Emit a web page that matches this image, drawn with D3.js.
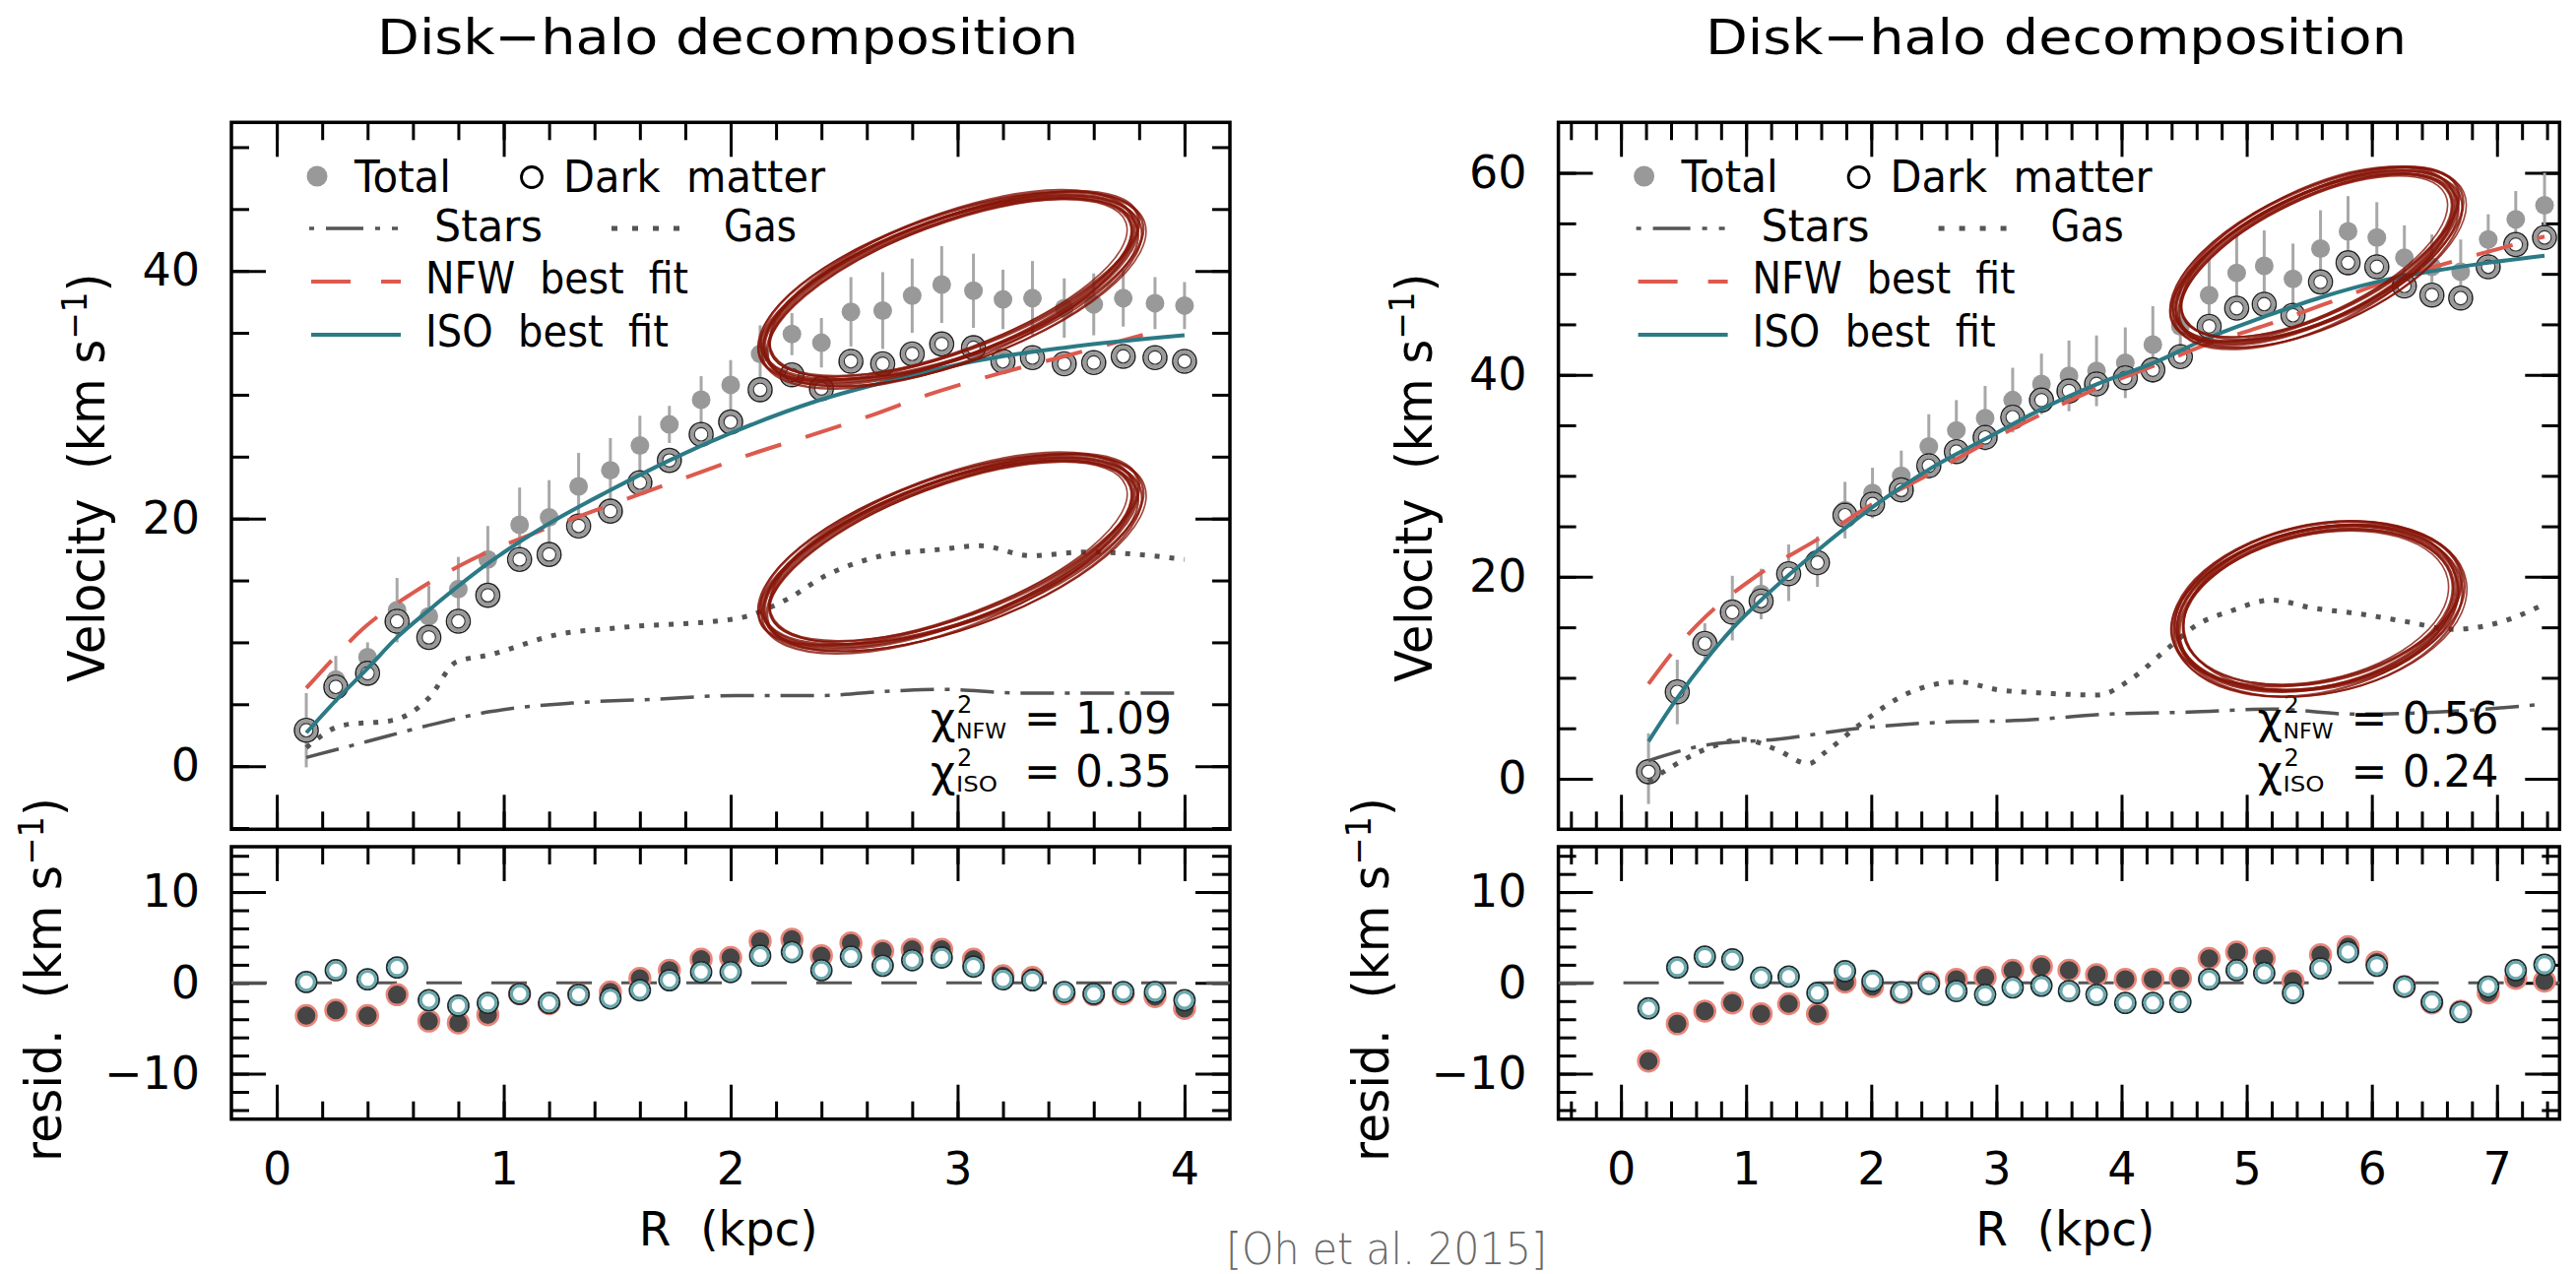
<!DOCTYPE html>
<html>
<head>
<meta charset="utf-8">
<script src="https://cdn.jsdelivr.net/npm/d3@7"></script>
<style>
  body { margin: 0; background: #fff; }
  svg { display: block; }
  text { font-family: "DejaVu Sans", sans-serif; fill: #000; white-space: pre; }
</style>
</head>
<body>
<svg id="chart" width="2616" height="1294"></svg>
<script>
// ---------- left galaxy ----------
const leftR = [0.13, 0.26, 0.40, 0.53, 0.67, 0.80, 0.93, 1.07, 1.20, 1.33, 1.47, 1.60, 1.73, 1.87, 2.00,
               2.13, 2.27, 2.40, 2.53, 2.67, 2.80, 2.93, 3.07, 3.20, 3.33, 3.47, 3.60, 3.73, 3.87, 4.00];
const leftTotal = [2.9, 7.0, 8.8, 12.6, 12.1, 14.3, 16.7, 19.5, 20.1, 22.6, 23.9, 25.9, 27.6, 29.6, 30.8,
                   33.3, 34.9, 34.2, 36.7, 36.8, 38.0, 38.9, 38.4, 37.7, 37.8, 37.0, 37.3, 37.8, 37.4, 37.2];
const leftTotalErr = [3.0, 1.9, 1.2, 2.6, 2.5, 2.6, 2.7, 3.0, 3.0, 2.7, 2.6, 2.4, 1.5, 1.9, 2.0,
                      2.3, 1.7, 2.0, 2.8, 3.1, 3.0, 3.1, 3.0, 2.4, 3.0, 2.4, 2.5, 2.3, 2.1, 1.9];
const leftDM = [2.9, 6.4, 7.5, 11.7, 10.4, 11.7, 13.8, 16.7, 17.1, 19.4, 20.6, 22.9, 24.7, 26.8, 27.8,
                30.4, 31.6, 30.5, 32.7, 32.5, 33.3, 34.1, 33.8, 32.7, 33.0, 32.5, 32.6, 33.1, 33.0, 32.7];
const leftResISO = [0.1, 1.4, 0.4, 1.7, -1.9, -2.5, -2.2, -1.2, -2.2, -1.3, -1.7, -0.8, 0.3, 1.2, 1.2,
                    3.0, 3.4, 1.4, 2.9, 1.9, 2.5, 2.8, 1.8, 0.4, 0.3, -1.0, -1.2, -1.0, -1.0, -1.9];
const leftResNFW = [-3.6, -3.0, -3.6, -1.3, -4.2, -4.4, -3.5, -1.2, -2.3, -1.3, -1.0, 0.5, 1.4, 2.6, 2.8,
                    4.6, 4.8, 3.0, 4.4, 3.5, 3.7, 3.7, 2.6, 0.8, 0.6, -1.2, -1.3, -1.2, -1.5, -2.8];
const leftNFW = [[0.13, 6.3], [0.26, 8.9], [0.38, 11.1], [0.60, 14.0], [0.86, 16.7], [1.16, 19.0], [1.50, 21.3],
                 [1.80, 23.3], [2.09, 25.2], [2.40, 27.0], [2.63, 28.4], [2.87, 30.0], [3.20, 31.8], [3.49, 33.2], [3.91, 35.3]];
const leftISO = [[0.13, 2.7], [0.26, 5.3], [0.40, 7.9], [0.53, 10.4], [0.67, 12.6], [0.94, 16.5], [1.20, 19.6],
                 [1.46, 22.2], [1.73, 24.7], [2.00, 26.9], [2.38, 29.5], [2.74, 31.3], [3.10, 32.8], [3.47, 33.8], [4.00, 34.8]];
const leftGas = [[0.13, 1.5], [0.29, 3.3], [0.51, 3.7], [0.67, 5.5], [0.79, 8.4], [0.94, 9.0], [1.23, 10.6],
                 [1.52, 11.2], [2.02, 11.9], [2.24, 13.4], [2.42, 15.4], [2.67, 17.0], [2.92, 17.5], [3.10, 17.8],
                 [3.32, 17.0], [3.57, 17.3], [4.00, 16.7]];
const leftStars = [[0.13, 0.7], [0.40, 2.0], [0.67, 3.3], [0.94, 4.4], [1.30, 5.1], [1.66, 5.4], [2.02, 5.7],
                   [2.38, 5.7], [2.74, 6.1], [2.92, 6.2], [3.29, 5.9], [4.00, 5.9]];
const leftChi = ["1.09", "0.35"];

// ---------- right galaxy ----------
const rightR = [0.22, 0.45, 0.67, 0.89, 1.12, 1.34, 1.57, 1.79, 2.01, 2.24, 2.46, 2.68, 2.91, 3.13, 3.36, 3.58, 3.80,
                4.03, 4.25, 4.47, 4.70, 4.92, 5.14, 5.37, 5.59, 5.81, 6.04, 6.26, 6.48, 6.71, 6.93, 7.15, 7.38];
const rightTotal = [1.0, 8.6, 13.4, 16.9, 18.3, 20.4, 21.5, 26.6, 28.3, 30.0, 32.9, 34.5, 35.7, 37.5, 39.1, 39.9, 40.4,
                    41.2, 43.0, 44.8, 47.9, 50.1, 50.8, 49.5, 52.5, 54.2, 53.6, 51.6, 50.7, 50.2, 53.4, 55.4, 56.8];
const rightTotalErr = [3.5, 3.2, 2.0, 3.2, 2.5, 2.8, 2.5, 2.8, 2.5, 2.5, 3.2, 3.0, 3.2, 3.2, 3.0, 3.5, 3.5,
                       3.5, 3.8, 3.5, 3.5, 3.8, 3.5, 3.5, 3.8, 3.5, 3.5, 3.2, 3.2, 3.2, 2.5, 2.8, 3.2];
const rightDM = [0.7, 8.6, 13.4, 16.5, 17.6, 20.3, 21.4, 26.1, 27.2, 28.6, 31.0, 32.4, 33.8, 35.8, 37.5, 38.4, 39.1,
                 39.7, 40.5, 41.8, 44.8, 46.6, 47.0, 45.9, 49.2, 51.1, 50.7, 48.8, 47.9, 47.6, 50.7, 52.9, 53.6];
const rightResISO = [-2.8, 1.7, 2.9, 2.6, 0.6, 0.7, -1.1, 1.3, 0.2, -1.0, -0.1, -0.9, -1.3, -0.5, -0.3, -0.9, -1.3,
                     -2.2, -2.2, -2.1, 0.4, 1.4, 1.1, -1.1, 1.6, 3.4, 1.9, -0.4, -2.1, -3.2, -0.4, 1.4, 2.0];
const rightResNFW = [-8.6, -4.5, -3.1, -2.2, -3.4, -2.3, -3.4, 0.1, -0.4, -1.1, 0.1, 0.4, 0.6, 1.4, 1.8, 1.4, 0.9,
                     0.4, 0.4, 0.5, 2.7, 3.4, 2.7, 0.2, 3.1, 4.0, 2.3, -0.4, -2.2, -3.1, -1.1, 0.5, 0.2];
const rightNFW = [[0.22, 9.4], [0.45, 13.1], [0.68, 16.1], [1.12, 20.4], [1.57, 23.7], [2.01, 27.2], [2.47, 30.2],
                  [2.92, 33.3], [3.36, 36.1], [3.81, 38.7], [4.26, 40.9], [4.70, 43.1], [5.15, 44.9], [5.60, 46.9],
                  [6.04, 48.9], [6.50, 50.7], [6.93, 52.2], [7.38, 53.7]];
const rightISO = [[0.22, 3.7], [0.45, 8.0], [0.68, 11.8], [0.90, 15.0], [1.12, 17.7], [1.57, 22.6], [2.01, 26.9],
                  [2.47, 30.7], [2.92, 33.7], [3.36, 36.6], [3.81, 39.1], [4.26, 41.2], [4.70, 43.7], [5.15, 45.8],
                  [5.60, 47.7], [6.04, 49.2], [6.50, 50.3], [6.93, 51.1], [7.38, 51.8]];
const rightGas = [[0.22, -0.3], [0.38, 1.0], [0.71, 3.1], [0.98, 3.9], [1.24, 2.9], [1.50, 1.5], [1.63, 2.6],
                  [1.90, 5.3], [2.30, 8.5], [2.69, 9.6], [3.02, 8.8], [3.35, 8.5], [3.81, 8.3], [4.08, 9.9],
                  [4.34, 12.6], [4.61, 15.3], [4.87, 16.6], [5.20, 17.7], [5.53, 16.9], [5.86, 16.4], [6.26, 15.6],
                  [6.65, 14.8], [7.05, 15.6], [7.38, 17.3]];
const rightStars = [[0.22, 1.8], [0.71, 3.4], [1.24, 3.9], [1.90, 5.0], [2.56, 5.6], [3.22, 5.8], [3.88, 6.4],
                    [4.54, 6.6], [5.20, 6.9], [5.86, 6.4], [6.52, 6.6], [7.38, 7.4]];
const rightChi = ["0.56", "0.24"];

// ---------- axes ----------
const leftXTicks = [0, 1, 2, 3, 4];
const rightXTicks = [0, 1, 2, 3, 4, 5, 6, 7];
const leftVTicks = [0, 20, 40];
const rightVTicks = [0, 20, 40, 60];
const residTicks = [-10, 0, 10];
const residDomain = [-15, 15];

// hand-drawn red ovals (centre in data units, size in px)
const leftOvals = [{ R: 2.97, v: 38.6, rx: 200, ry: 70, rot: -20 }, { R: 2.97, v: 17.3, rx: 200, ry: 72, rot: -20 }];
const rightOvals = [{ R: 5.56, v: 51.7, rx: 155, ry: 64, rot: -25 }, { R: 5.57, v: 16.9, rx: 145, ry: 80, rot: -12 }];

const TOP = { y0: 124.3, y1: 842.3 };
const RES = { y0: 860, y1: 1136.7 };

const svg = d3.select("#chart");
svg.append("rect").attr("width", 2616).attr("height", 1294).attr("fill", "#fff");

function tickAxis(g, axis, tx, ty, values, size, labels, pad) {
    axis.tickValues(values).tickSize(size).tickPadding(pad || 0);
    axis.tickFormat(labels ? d3.format("d") : "");
    const ga = g.append("g").attr("transform", `translate(${tx},${ty})`).call(axis);
    ga.select(".domain").remove();
    ga.selectAll("line").attr("stroke", "#000").attr("stroke-width", 3);
    ga.selectAll("text")
        .attr("font-size", 46)
        .attr("font-family", "DejaVu Sans, sans-serif")
        .attr("fill", "#000");
}

function inside(vals, dom) {
    return vals.filter(v => v > dom[0] + 1e-6 && v < dom[1] - 1e-6);
}

function chiLine(g, x, y, sub, value) {
    g.append("text").attr("x", x).attr("y", y).attr("font-size", 44).text("χ");
    g.append("text").attr("x", x + 27).attr("y", y - 21).attr("font-size", 24).text("2");
    g.append("text").attr("x", x + 26).attr("y", y + 5).attr("font-size", 21)
        .attr("textLength", sub === "NFW" ? 51 : 42).attr("lengthAdjust", "spacingAndGlyphs").text(sub);
    g.append("text").attr("x", x + 95).attr("y", y).attr("font-size", 44).text("=");
    g.append("text").attr("x", x + 245).attr("y", y).attr("font-size", 44)
        .attr("text-anchor", "end").text(value);
}

function drawPanel(p) {
    const x = d3.scaleLinear(p.xDomain, [p.x0, p.x1]);
    const y = d3.scaleLinear(p.yDomain, [TOP.y1, TOP.y0]);
    const yr = d3.scaleLinear(residDomain, [RES.y1, RES.y0]);
    const g = svg.append("g");
    const cx = (p.x0 + p.x1) / 2;

    g.append("text")
        .attr("x", cx - 3).attr("y", 55)
        .attr("text-anchor", "middle")
        .attr("font-size", 50)
        .attr("textLength", 712).attr("lengthAdjust", "spacingAndGlyphs")
        .text("Disk−halo decomposition");

    // ticks, all inward
    const xMinor = inside(d3.range(-1, 8, 0.2).map(v => +v.toFixed(1)), p.xDomain);
    const vMinor = inside(d3.range(-5, 70, 5), p.yDomain);
    const rMinor = inside(d3.range(-14, 16, 2), residDomain);

    [[TOP.y0, d3.axisTop], [TOP.y1, d3.axisBottom], [RES.y0, d3.axisTop]].forEach(([ty, gen]) => {
        tickAxis(g, gen(x), 0, ty, xMinor, -18);
        tickAxis(g, gen(x), 0, ty, p.xTicks, -35);
    });
    tickAxis(g, d3.axisBottom(x), 0, RES.y1, xMinor, -18);
    tickAxis(g, d3.axisBottom(x), 0, RES.y1, p.xTicks, -35, true, 34);

    tickAxis(g, d3.axisLeft(y), p.x0, 0, vMinor, -18);
    tickAxis(g, d3.axisLeft(y), p.x0, 0, p.yTicks, -35, true, 32);
    tickAxis(g, d3.axisRight(y), p.x1, 0, vMinor, -18);
    tickAxis(g, d3.axisRight(y), p.x1, 0, p.yTicks, -35);

    tickAxis(g, d3.axisLeft(yr), p.x0, 0, rMinor, -18);
    tickAxis(g, d3.axisLeft(yr), p.x0, 0, residTicks, -35, true, 32);
    tickAxis(g, d3.axisRight(yr), p.x1, 0, rMinor, -18);
    tickAxis(g, d3.axisRight(yr), p.x1, 0, residTicks, -35);

    // frames
    [TOP, RES].forEach(b => {
        g.append("rect")
            .attr("x", p.x0).attr("y", b.y0)
            .attr("width", p.x1 - p.x0).attr("height", b.y1 - b.y0)
            .attr("fill", "none").attr("stroke", "#000").attr("stroke-width", 3.5);
    });

    // axis titles
    const vel = g.append("text")
        .attr("transform", `translate(${p.x0 - 129},${(TOP.y0 + TOP.y1) / 2 + 2}) rotate(-90)`)
        .attr("text-anchor", "middle").attr("font-size", 52)
        .attr("textLength", 415).attr("lengthAdjust", "spacingAndGlyphs");
    vel.append("tspan").text("Velocity  (km s");
    vel.append("tspan").attr("dy", -18).attr("font-size", 36).text("−1");
    vel.append("tspan").attr("dy", 18).text(")");

    const res = g.append("text")
        .attr("transform", `translate(${p.x0 - 173},995) rotate(-90)`)
        .attr("text-anchor", "middle").attr("font-size", 52)
        .attr("textLength", 370).attr("lengthAdjust", "spacingAndGlyphs");
    res.append("tspan").text("resid.  (km s");
    res.append("tspan").attr("dy", -18).attr("font-size", 36).text("−1");
    res.append("tspan").attr("dy", 18).text(")");

    g.append("text")
        .attr("x", x(p.xLabelAt)).attr("y", 1265)
        .attr("text-anchor", "middle").attr("font-size", 48)
        .attr("textLength", 182).attr("lengthAdjust", "spacingAndGlyphs")
        .text("R  (kpc)");

    // ---- top panel data ----
    const pts = p.R.map((r, i) => ({ r, tot: p.total[i], err: p.err[i], dm: p.dm[i], rn: p.resNFW[i], ri: p.resISO[i] }));

    g.append("g").selectAll("line").data(pts).join("line")
        .attr("x1", d => x(d.r)).attr("x2", d => x(d.r))
        .attr("y1", d => y(d.tot - d.err)).attr("y2", d => y(d.tot + d.err))
        .attr("stroke", "#a8a8a8").attr("stroke-width", 3);
    g.append("g").selectAll("circle").data(pts).join("circle")
        .attr("cx", d => x(d.r)).attr("cy", d => y(d.tot)).attr("r", 9.5)
        .attr("fill", "#999");

    const dmG = g.append("g").selectAll("g").data(pts).join("g")
        .attr("transform", d => `translate(${x(d.r)},${y(d.dm)})`);
    dmG.append("circle").attr("r", 12).attr("fill", "#fff").attr("stroke", "#222").attr("stroke-width", 1.6);
    dmG.append("circle").attr("r", 9.3).attr("fill", "none").attr("stroke", "#9a9a9a").attr("stroke-width", 4);
    dmG.append("circle").attr("r", 6.8).attr("fill", "#fff").attr("stroke", "#333").attr("stroke-width", 1.2);

    const line = d3.line().x(d => x(d[0])).y(d => y(d[1])).curve(d3.curveMonotoneX);
    g.append("path").attr("d", line(p.stars)).attr("fill", "none")
        .attr("stroke", "#555").attr("stroke-width", 3.5).attr("stroke-dasharray", "34,11,5,11");
    g.append("path").attr("d", line(p.gas)).attr("fill", "none")
        .attr("stroke", "#555").attr("stroke-width", 5).attr("stroke-dasharray", "5,10");
    g.append("path").attr("d", line(p.nfw)).attr("fill", "none")
        .attr("stroke", "#dc5a4e").attr("stroke-width", 4).attr("stroke-dasharray", "38,26");
    g.append("path").attr("d", line(p.iso)).attr("fill", "none")
        .attr("stroke", "#2b7a85").attr("stroke-width", 4);

    // ---- residual panel ----
    g.append("line")
        .attr("x1", p.x0).attr("x2", p.x1).attr("y1", yr(0)).attr("y2", yr(0))
        .attr("stroke", "#555").attr("stroke-width", 3).attr("stroke-dasharray", "36,30");
    const rn = g.append("g").selectAll("g").data(pts).join("g")
        .attr("transform", d => `translate(${x(d.r)},${yr(d.rn)})`);
    rn.append("circle").attr("r", 10.5).attr("fill", "#454545").attr("stroke", "#e8867a").attr("stroke-width", 2.5);
    const ri = g.append("g").selectAll("g").data(pts).join("g")
        .attr("transform", d => `translate(${x(d.r)},${yr(d.ri)})`);
    ri.append("circle").attr("r", 10.5).attr("fill", "#fff").attr("stroke", "#1e2a2c").attr("stroke-width", 1.8);
    ri.append("circle").attr("r", 8.2).attr("fill", "none").attr("stroke", "#6aa8ad").attr("stroke-width", 3);

    // ---- legend ----
    const lx = p.x0 + 81;
    const lg = g.append("g");
    lg.append("circle").attr("cx", lx + 6).attr("cy", 179).attr("r", 10.5).attr("fill", "#999");
    lg.append("text").attr("x", lx + 44).attr("y", 195).attr("font-size", 44)
        .attr("textLength", 98).attr("lengthAdjust", "spacingAndGlyphs").text("Total");
    lg.append("circle").attr("cx", lx + 224).attr("cy", 180).attr("r", 10.5)
        .attr("fill", "none").attr("stroke", "#000").attr("stroke-width", 2.8);
    lg.append("text").attr("x", lx + 256).attr("y", 195).attr("font-size", 44)
        .attr("textLength", 266).attr("lengthAdjust", "spacingAndGlyphs").text("Dark  matter");

    lg.append("line").attr("x1", lx - 2).attr("x2", lx + 88).attr("y1", 232).attr("y2", 232)
        .attr("stroke", "#555").attr("stroke-width", 3.5).attr("stroke-dasharray", "5,12,38,12");
    lg.append("text").attr("x", lx + 125).attr("y", 245).attr("font-size", 44)
        .attr("textLength", 110).attr("lengthAdjust", "spacingAndGlyphs").text("Stars");
    lg.append("line").attr("x1", lx + 305).attr("x2", lx + 382).attr("y1", 232).attr("y2", 232)
        .attr("stroke", "#555").attr("stroke-width", 5).attr("stroke-dasharray", "6,15");
    lg.append("text").attr("x", lx + 419).attr("y", 245).attr("font-size", 44)
        .attr("textLength", 74).attr("lengthAdjust", "spacingAndGlyphs").text("Gas");

    lg.append("line").attr("x1", lx).attr("x2", lx + 91).attr("y1", 286).attr("y2", 286)
        .attr("stroke", "#dc5a4e").attr("stroke-width", 4).attr("stroke-dasharray", "40,31");
    lg.append("text").attr("x", lx + 116).attr("y", 298).attr("font-size", 44)
        .attr("textLength", 267).attr("lengthAdjust", "spacingAndGlyphs").text("NFW  best  fit");
    lg.append("line").attr("x1", lx).attr("x2", lx + 91).attr("y1", 340).attr("y2", 340)
        .attr("stroke", "#2b7a85").attr("stroke-width", 4);
    lg.append("text").attr("x", lx + 116).attr("y", 352).attr("font-size", 44)
        .attr("textLength", 247).attr("lengthAdjust", "spacingAndGlyphs").text("ISO  best  fit");

    // chi^2 values
    chiLine(g, p.x0 + 710, 745, "NFW", p.chi[0]);
    chiLine(g, p.x0 + 710, 799, "ISO", p.chi[1]);

    // red hand-drawn ovals: several thin strands for a brush look
    const strands = [[0, 0, 0, 0, 0, 3.4], [2, -2, 4, 2, 1, 2.6], [-2, 2, -3, -2, -1, 3.0], [1, 3, 2, 4, 0.5, 2.2],
                     [-1, -3, 5, -3, -0.8, 2.8], [3, 1, -4, 1, 1.5, 2.0], [-3, 0, 1, 5, -1.2, 2.4], [0, -1, -6, -4, 0.3, 2.6],
                     [1, 1, 7, 6, 0.8, 1.6], [-2, -1, -8, -6, -0.4, 1.6]];
    p.ovals.forEach(o => {
        const og = g.append("g").attr("transform", `translate(${x(o.R)},${y(o.v)}) rotate(${o.rot})`);
        strands.forEach(s => {
            og.append("ellipse")
                .attr("cx", s[0]).attr("cy", s[1])
                .attr("rx", o.rx + s[2]).attr("ry", o.ry + s[3])
                .attr("transform", `rotate(${s[4]})`)
                .attr("fill", "none").attr("stroke", "#861408")
                .attr("stroke-width", s[5]).attr("stroke-opacity", 0.8);
        });
    });
}

drawPanel({
    x0: 235, x1: 1249, xDomain: [-0.2, 4.2], yDomain: [-5.1, 52], xTicks: leftXTicks, yTicks: leftVTicks,
    R: leftR, total: leftTotal, err: leftTotalErr, dm: leftDM, resNFW: leftResNFW, resISO: leftResISO,
    nfw: leftNFW, iso: leftISO, gas: leftGas, stars: leftStars, chi: leftChi, ovals: leftOvals, xLabelAt: 1.99
});
drawPanel({
    x0: 1582.6, x1: 2599.3, xDomain: [-0.5, 7.5], yDomain: [-5, 65], xTicks: rightXTicks, yTicks: rightVTicks,
    R: rightR, total: rightTotal, err: rightTotalErr, dm: rightDM, resNFW: rightResNFW, resISO: rightResISO,
    nfw: rightNFW, iso: rightISO, gas: rightGas, stars: rightStars, chi: rightChi, ovals: rightOvals, xLabelAt: 3.55
});

// citation
svg.append("text")
    .attr("x", 1408).attr("y", 1284)
    .attr("text-anchor", "middle")
    .attr("font-size", 44)
    .attr("font-family", "Lato, 'Open Sans', sans-serif")
    .attr("font-weight", 300)
    .style("fill", "#6a6a6a")
    .attr("textLength", 326).attr("lengthAdjust", "spacingAndGlyphs")
    .text("[Oh et al. 2015]");
</script>
</body>
</html>
